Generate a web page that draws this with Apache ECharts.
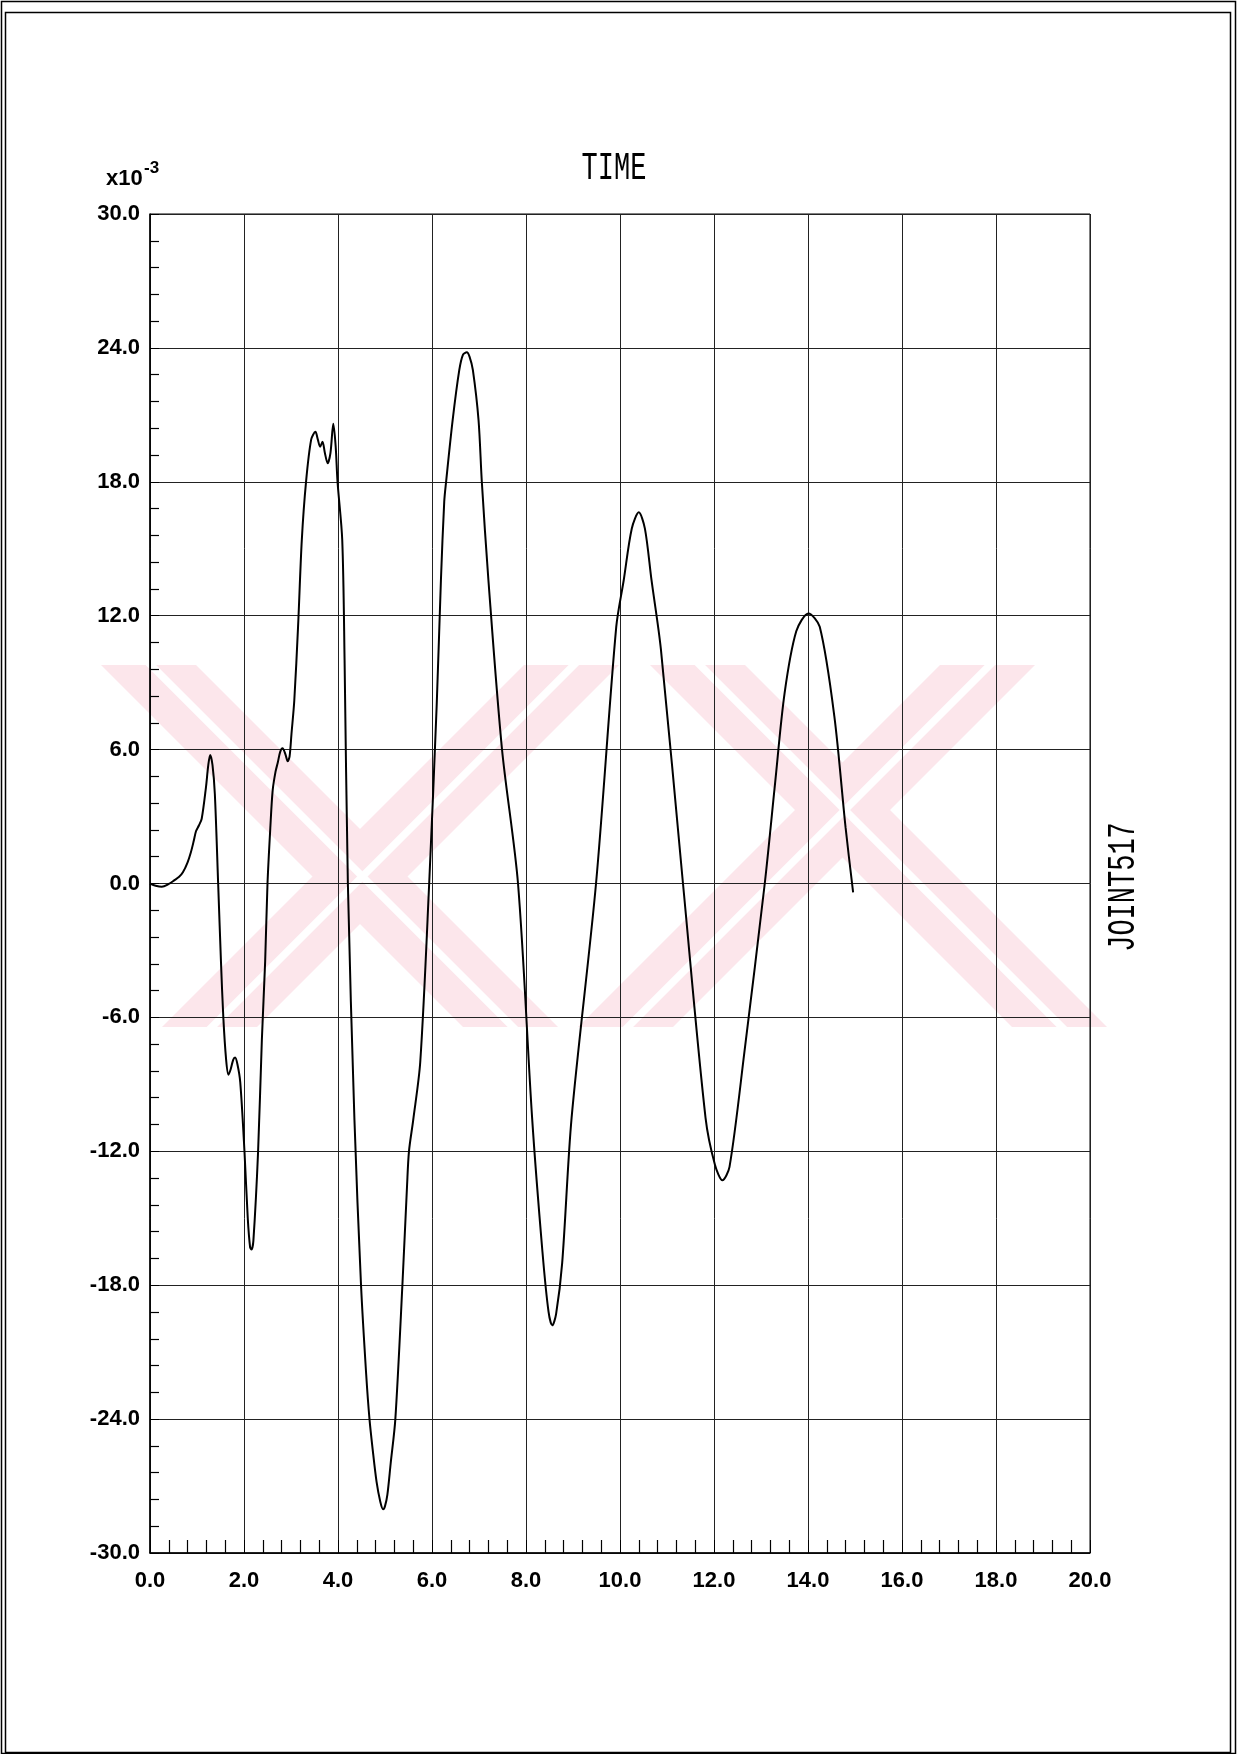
<!DOCTYPE html>
<html>
<head>
<meta charset="utf-8">
<script src="https://cdn.jsdelivr.net/npm/echarts@6/dist/echarts.min.js"></script>
<style>
html,body{margin:0;padding:0;background:#fff;}
#chart{width:1237px;height:1754px;}
</style>
</head>
<body>
<div id="chart"></div>
<script>
// time (s)
const timeValues = [0.0,0.12,0.25,0.4,0.52,0.62,0.70,0.80,0.87,0.93,0.98,1.04,1.10,1.19,1.24,1.28,1.33,1.38,1.45,1.51,1.56,1.62,1.67,1.72,1.77,1.81,1.86,1.92,2.01,2.08,2.13,2.16,2.20,2.30,2.38,2.45,2.50,2.56,2.61,2.67,2.72,2.77,2.82,2.88,2.93,2.97,3.01,3.07,3.15,3.23,3.32,3.43,3.52,3.57,3.62,3.67,3.72,3.78,3.84,3.90,3.95,3.99,4.09,4.14,4.21,4.35,4.49,4.60,4.67,4.74,4.82,4.90,4.96,5.00,5.05,5.12,5.22,5.37,5.47,5.51,5.60,5.75,5.94,6.10,6.19,6.26,6.30,6.44,6.58,6.66,6.74,6.80,6.87,6.99,7.06,7.20,7.49,7.83,8.13,8.35,8.48,8.56,8.64,8.77,8.97,9.49,9.92,10.08,10.25,10.40,10.53,10.67,10.87,11.34,11.82,12.02,12.18,12.33,12.65,13.08,13.30,13.50,13.75,14.01,14.25,14.56,14.80,14.96];
// displacement (x10^-3)
const dispValues = [0.0,-0.1,-0.15,-0.02,0.15,0.3,0.5,0.95,1.4,1.9,2.35,2.6,2.9,4.3,5.3,5.76,5.3,4.0,0.0,-3.5,-6.0,-7.9,-8.57,-8.3,-7.9,-7.8,-8.1,-8.9,-12.0,-15.0,-16.3,-16.4,-16.0,-12.0,-7.0,-3.5,0.0,2.5,4.17,5.0,5.43,5.9,6.06,5.8,5.48,5.7,6.7,8.2,11.5,15.4,18.0,19.9,20.24,19.9,19.57,19.8,19.3,18.83,19.3,20.6,19.6,18.0,15.4,10.0,0.0,-10.6,-18.0,-22.0,-24.0,-25.4,-26.8,-27.7,-28.04,-27.9,-27.4,-26.0,-24.0,-18.0,-13.5,-12.0,-10.6,-8.0,0.0,8.0,13.6,17.1,18.0,20.77,23.0,23.7,23.8,23.6,23.0,20.77,18.0,13.6,6.0,0.0,-10.5,-16.5,-19.2,-19.8,-19.3,-17.0,-10.5,0.0,11.5,13.6,15.9,16.63,15.9,13.6,10.5,0.0,-10.5,-12.6,-13.3,-12.7,-7.5,0.0,4.5,8.5,11.3,12.1,11.5,7.5,2.5,-0.4];
const xTickLabels = ['0.0','2.0','4.0','6.0','8.0','10.0','12.0','14.0','16.0','18.0','20.0'];
const yTickLabels = ['-30.0','-24.0','-18.0','-12.0','-6.0','0.0','6.0','12.0','18.0','24.0','30.0'];

const seriesData = timeValues.map((t, i) => [t, dispValues[i]]);

const chart = echarts.init(document.getElementById('chart'), null, {renderer: 'canvas'});

const pink = '#fce6eb';
function band(x0, x1, x2, x3, yTop, yBot) {
  const els = [{type: 'polygon', z: -10, silent: true,
    shape: {points: [[x0, yTop], [x1, yTop], [x3, yBot], [x2, yBot]]},
    style: {fill: pink}}];
  // thin white inner stripe (double-line look)
  const a = 0.47, b = 0.58;
  els.push({type: 'polygon', z: -9, silent: true,
    shape: {points: [[x0 + (x1 - x0) * a, yTop], [x0 + (x1 - x0) * b, yTop], [x2 + (x3 - x2) * b, yBot], [x2 + (x3 - x2) * a, yBot]]},
    style: {fill: '#ffffff'}});
  return els;
}
const wmTop = 665, wmBot = 1027;

const option = {
  animation: false,
  backgroundColor: '#ffffff',
  grid: {left: 150, right: 147, top: 214, bottom: 201, show: true, borderColor: '#000', borderWidth: 1, backgroundColor: 'transparent'},
  xAxis: {
    type: 'value', min: 0, max: 20, interval: 2,
    axisLine: {show: true, onZero: false, lineStyle: {color: '#000', width: 1.5}},
    axisTick: {show: true, inside: true, length: 13, lineStyle: {color: '#000'}},
    minorTick: {show: true, splitNumber: 5, length: 13, lineStyle: {color: '#000', width: 1.2}},
    splitLine: {show: true, lineStyle: {color: '#222', width: 1}},
    axisLabel: {margin: 17, color: '#000', fontFamily: 'Liberation Sans', fontSize: 22, fontWeight: 'bold',
      formatter: (v) => xTickLabels[Math.round(v / 2)]}
  },
  yAxis: {
    type: 'value', min: -30, max: 30, interval: 6,
    axisLine: {show: true, onZero: false, lineStyle: {color: '#000', width: 1.5}},
    axisTick: {show: true, inside: true, length: 9, lineStyle: {color: '#000'}},
    minorTick: {show: true, splitNumber: 5, length: 9, lineStyle: {color: '#000', width: 1.2}},
    splitLine: {show: true, lineStyle: {color: '#222', width: 1}},
    axisLabel: {margin: 10, color: '#000', fontFamily: 'Liberation Sans', fontSize: 22, fontWeight: 'bold',
      formatter: (v) => yTickLabels[Math.round((v + 30) / 6)]}
  },
  series: [{
    type: 'line', data: seriesData, showSymbol: false, smooth: 0.3,
    lineStyle: {color: '#000', width: 2}, z: 5
  }],
  graphic: [].concat(
    band(101, 196, 463, 558, wmTop, wmBot),
    band(524, 619, 162, 257, wmTop, wmBot),
    band(650, 745, 1012, 1107, wmTop, wmBot),
    band(940, 1035, 578, 673, wmTop, wmBot),
    [
    {type: 'rect', silent: true, shape: {x: 1.5, y: 1.5, width: 1234, height: 1752}, style: {fill: 'none', stroke: '#000', lineWidth: 1.5}},
    {type: 'rect', silent: true, shape: {x: 5.5, y: 12.5, width: 1225, height: 1740}, style: {fill: 'none', stroke: '#000', lineWidth: 1.5}},
    {type: 'text', silent: true, x: 614, y: 169, scaleY: 1.45,
      style: {text: 'TIME', font: '27px "Liberation Mono"', fill: '#000', align: 'center', verticalAlign: 'middle'}},
    {type: 'text', silent: true, x: 1124, y: 887, rotation: Math.PI / 2, scaleY: 1.45,
      style: {text: 'JOINT517', font: '27px "Liberation Mono"', fill: '#000', align: 'center', verticalAlign: 'middle'}},
    {type: 'text', silent: true, x: 106, y: 190,
      style: {text: 'x10', font: 'bold 22px "Liberation Sans"', fill: '#000', align: 'left', verticalAlign: 'bottom'}},
    {type: 'text', silent: true, x: 144, y: 177,
      style: {text: '-3', font: 'bold 17px "Liberation Sans"', fill: '#000', align: 'left', verticalAlign: 'bottom'}}
    ])
};
chart.setOption(option);
</script>
</body>
</html>
